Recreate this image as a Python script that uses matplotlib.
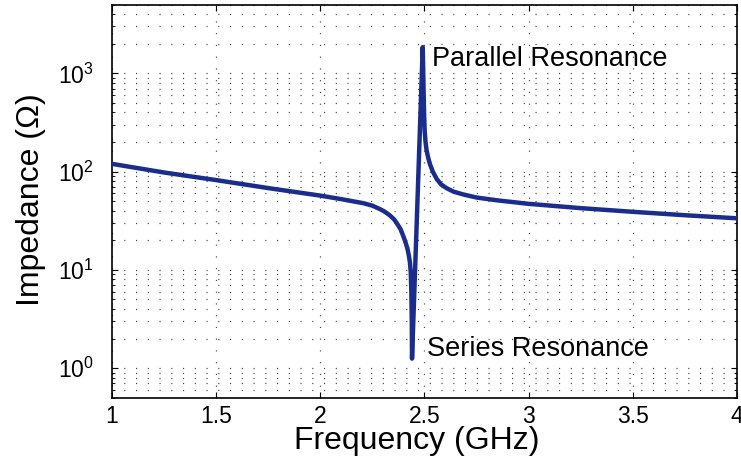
import matplotlib
matplotlib.use("Agg")
import matplotlib.pyplot as plt
from matplotlib.ticker import LogLocator, FixedLocator, NullFormatter

plt.rcParams['font.family'] = ['Liberation Sans', 'DejaVu Sans']
plt.rcParams['mathtext.fontset'] = 'custom'
plt.rcParams['mathtext.rm'] = 'Liberation Sans'
plt.rcParams['mathtext.it'] = 'Liberation Sans:italic'

# Data
freq_ghz = [1.0, 1.25, 1.5, 1.75, 2.0, 2.1, 2.207, 2.25, 2.287, 2.31, 2.335,
            2.355, 2.367, 2.385, 2.399, 2.41, 2.418, 2.425, 2.43, 2.434,
            2.437, 2.439, 2.4402, 2.466, 2.4916, 2.4935, 2.4955, 2.498,
            2.501, 2.505, 2.51, 2.518, 2.527, 2.54, 2.559, 2.58, 2.607,
            2.64, 2.687, 2.75, 2.85, 3.0, 3.25, 3.5, 3.75, 4.0]
impedance_ohm = [120, 98, 82, 68, 57, 52.5, 47.7, 45, 41.5, 39, 35.7,
                 32.5, 29.9, 26, 21.9, 18.8, 16.5, 14, 12, 9.5,
                 6, 3, 1.25, 48, 1850, 1200, 700, 400,
                 260, 200, 165, 138, 118, 100, 84, 74, 67.7,
                 62.5, 58.5, 54.5, 51, 47, 42.5, 39, 36, 33.5]
xticks = [1, 1.5, 2, 2.5, 3, 3.5, 4]
xtick_labels = ['1', '1.5', '2', '2.5', '3', '3.5', '4']
label_parallel = 'Parallel Resonance'
label_series = 'Series Resonance'

fig = plt.figure(figsize=(7.41, 4.70), dpi=100)
ax = fig.add_axes([0.1511, 0.1538, 0.9946 - 0.1511, 0.990 - 0.1538])

ax.plot(freq_ghz, impedance_ohm, color='#1b2d8c', lw=3.2,
        solid_joinstyle='round', solid_capstyle='round', zorder=3)

ax.set_yscale('log')
ax.set_xlim(1, 4)
ax.set_ylim(0.5, 5000)
ax.set_xticks(xticks)
ax.set_xticklabels(xtick_labels)
ax.yaxis.set_major_locator(FixedLocator([1, 10, 100, 1000]))
ax.yaxis.set_minor_locator(LogLocator(base=10, subs=range(2, 10), numticks=20))
ax.yaxis.set_minor_formatter(NullFormatter())
ax.set_yticklabels([r'$\mathdefault{10^{0}}$', r'$\mathdefault{10^{1}}$',
                    r'$\mathdefault{10^{2}}$', r'$\mathdefault{10^{3}}$'])

ax.tick_params(axis='both', which='major', direction='in', length=4, width=0.8,
               top=True, right=True, labelsize=16.5, colors='black')
ax.tick_params(axis='x', which='major', pad=5)
ax.tick_params(axis='y', which='major', pad=13)
ax.tick_params(axis='y', which='minor', direction='in', length=2.5, width=0.6,
               left=True, right=True)
ax.tick_params(axis='x', which='minor', bottom=False, top=False)

grid_style = dict(color='#444444', linestyle=(0, (0.9, 8.5)), linewidth=0.9)
ax.grid(True, which='major', axis='both', **grid_style)
ax.grid(True, which='minor', axis='y', **grid_style)
ax.set_axisbelow(True)

for s in ax.spines.values():
    s.set_linewidth(1.2)
    s.set_color('black')

ax.set_xlabel('Frequency (GHz)', fontsize=23)
ax.xaxis.set_label_coords(0.487, -0.073)
ax.set_ylabel('Impedance (Ω)', fontsize=23)
ax.yaxis.set_label_coords(-0.1056, 0.503)

ax.text(2.535, 1200, label_parallel, fontsize=19.5, va='baseline', ha='left')
ax.text(2.514, 1.32, label_series, fontsize=19.5, va='baseline', ha='left')

fig.savefig('out.png', dpi=100)
